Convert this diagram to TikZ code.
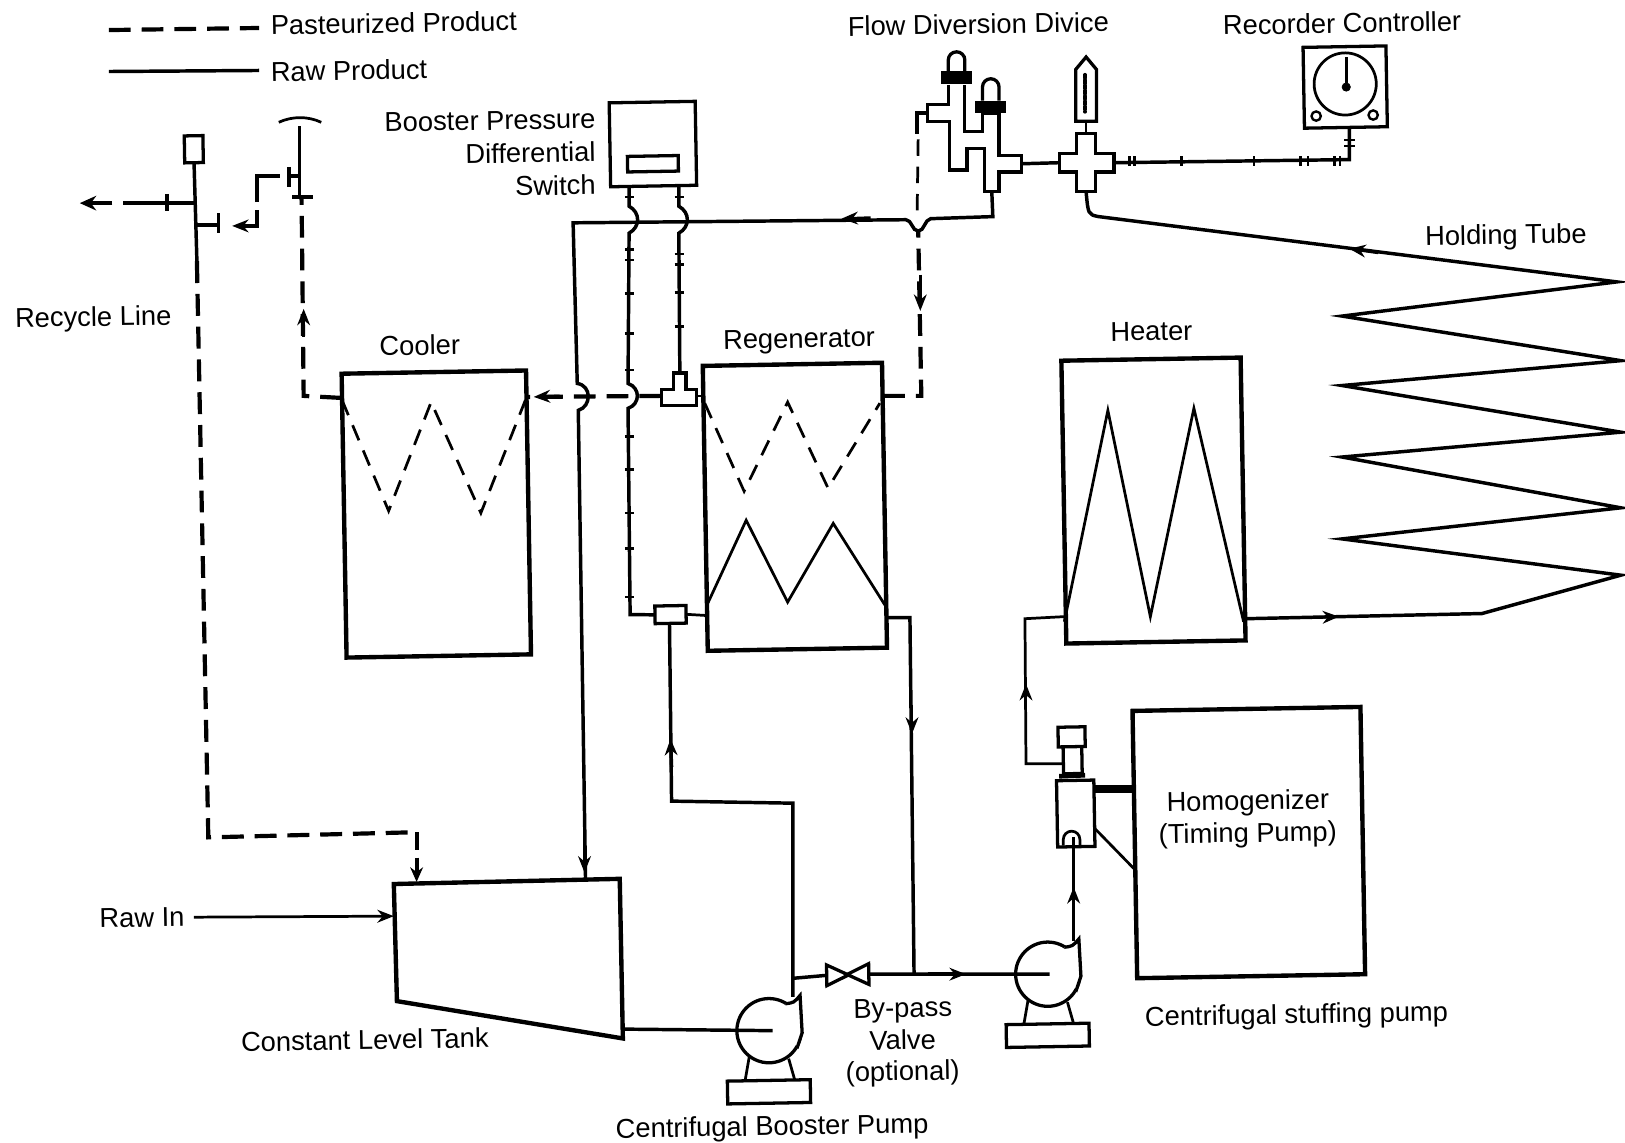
\documentclass[tikz,border=0pt]{standalone}
\usepackage{fontspec}
\setmainfont{Liberation Sans}
\usetikzlibrary{arrows.meta, shapes.geometric}
\tikzset{
  vessel/.style={draw, line width=2.4pt, rotate=1, inner sep=0pt, outer sep=0pt},
  part/.style={draw, fill=white, line width=1.8pt, rotate=1, inner sep=0pt, outer sep=0pt},
  partline/.style={draw, fill=white, line width=1.8pt},
  lbl/.style={rotate=1, inner sep=0pt, text height=11pt, text depth=0pt, font=\fontsize{15}{18}\selectfont},
  pipe/.style={line width=1.5pt},
  heavy/.style={line width=1.9pt},
  broken/.style={line width=1.5pt, dash pattern=on 9pt off 6pt},
  brokenheavy/.style={line width=2.3pt, dash pattern=on 12pt off 6pt},
  flow/.style={-{Stealth[length=9pt,width=7pt]}}
}
\begin{document}
\begin{tikzpicture}[x=0.02cm, y=-0.02cm]
  \useasboundingbox (0,0) rectangle (1568,1102);

  % Legend
  \coordinate (legA) at (105,29);
  \coordinate (legB) at (250,27);
  \coordinate (legC) at (105,69);
  \coordinate (legD) at (250,68);
  \node[lbl, anchor=west] (pasteurized) at (261,24) {Pasteurized Product};
  \node[lbl, anchor=west] (rawproduct) at (261,69) {Raw Product};
  \draw[brokenheavy] (legA) -- (legB);
  \draw[heavy] (legC) -- (legD);

  % Vessels
  \node[vessel, minimum width=3.56cm, minimum height=5.48cm] (cooler) at (421,496) {};
  \node[vessel, minimum width=3.46cm, minimum height=5.50cm] (regen) at (767,489) {};
  \node[vessel, minimum width=3.46cm, minimum height=5.46cm] (heater) at (1113,483) {};
  \node[vessel, minimum width=4.40cm, minimum height=5.16cm] (homog) at (1205,813) {};
  \node[part, minimum width=1.66cm, minimum height=1.62cm] (booster) at (630,139) {};
  \node[part, minimum width=0.98cm, minimum height=0.30cm] (window) at (630,158) {};
  \node[part, minimum width=0.60cm, minimum height=0.34cm] (splitter) at (647,593) {};
  \node[part, minimum width=1.60cm, minimum height=1.56cm] (recorder) at (1298,84) {};
  \node[draw, line width=1.5pt, circle, minimum size=1.20cm, inner sep=0pt] (dial) at (1298,81) {};
  \node[draw, fill=black, circle, minimum size=0.16cm, inner sep=0pt] (needle) at (1299,84) {};
  \node[draw, line width=1.3pt, circle, minimum size=0.18cm, inner sep=0pt] (knobA) at (1270,112) {};
  \node[draw, line width=1.3pt, circle, minimum size=0.18cm, inner sep=0pt] (knobB) at (1325,111) {};
  \coordinate (needleTip) at (1299,55);
  \draw[heavy] (needleTip) -- (needle);

  % Labels
  \node[lbl] (recycle) at (90,305) {Recycle Line};
  \node[lbl] (coolerlbl) at (405,333) {Cooler};
  \node[lbl] (regenlbl) at (771,326) {Regenerator};
  \node[lbl] (heaterlbl) at (1111,319) {Heater};
  \node[lbl] (holdlbl) at (1453,226) {Holding Tube};
  \node[lbl] (flowlbl) at (944,23) {Flow Diversion Divice};
  \node[lbl] (recordlbl) at (1295,22) {Recorder Controller};
  \node[lbl, anchor=east] (boost1) at (575,114) {Booster Pressure};
  \node[lbl, anchor=east] (boost2) at (575,146) {Differential};
  \node[lbl, anchor=east] (boost3) at (575,178) {Switch};
  \node[lbl] (rawin) at (137,885) {Raw In};
  \node[lbl] (tanklbl) at (352,1003) {Constant Level Tank};
  \node[lbl] (bypass1) at (871,972) {By-pass};
  \node[lbl] (bypass2) at (871,1003) {Valve};
  \node[lbl] (bypass3) at (871,1033) {(optional)};
  \node[lbl] (boosterpump) at (745,1086) {Centrifugal Booster Pump};
  \node[lbl] (stuffing) at (1251,978) {Centrifugal stuffing pump};
  \node[lbl] (homog1) at (1204,772) {Homogenizer};
  \node[lbl] (homog2) at (1204,803) {(Timing Pump)};

  % Coils
  \draw[broken] (330,386) -- (375,493) -- (416,388) -- (464,495) -- (507,386);
  \draw[broken] (680,389) -- (718,474) -- (760,388) -- (799,471) -- (849,389);
  \draw[pipe] (683,582) -- (720,502) -- (760,581) -- (804,505) -- (854,584);
  \draw[pipe] (1027,600) -- (1069,396) -- (1110,595) -- (1152,394) -- (1200,600);

  % Constant level tank
  \coordinate (tankA) at (380,853);
  \coordinate (tankB) at (598,848);
  \coordinate (tankC) at (601,1002);
  \coordinate (tankD) at (383,966);
  \draw[line width=2.4pt] (tankA) -- (tankB) -- (tankC) -- (tankD) -- cycle;

  % Pumps
  \foreach \name/\x/\y in {boostpump/742/994.5, stuffpump/1011/940} {
    \node[draw, fill=white, line width=1.8pt, circle, minimum size=1.24cm, inner sep=0pt] (\name) at (\x,\y) {};
    \node[part, minimum width=1.60cm, minimum height=0.44cm] (\name base) at (\x,\y+59) {};
    \draw[pipe] ([shift={(-19,25)}]\x,\y) -- ([shift={(-23,48)}]\x,\y);
    \draw[pipe] ([shift={(19,27)}]\x,\y) -- ([shift={(25,48)}]\x,\y);
    \draw[line width=1.8pt, fill=white] ([shift={(16,-26)}]\x,\y) .. controls ([shift={(24,-27)}]\x,\y) .. ([shift={(30,-34)}]\x,\y) -- ([shift={(32,2)}]\x,\y) -- ([shift={(27,17)}]\x,\y);
  }

  % Main pipes
  \coordinate (tankOut) at (601,993);
  \draw[heavy] (tankOut) -- ([xshift=2pt]boostpump.center);
  \coordinate (rawStart) at (187,885);
  \coordinate (tankIn) at (380,884);
  \draw[pipe, flow] (rawStart) -- (tankIn);
  \coordinate (pumpTop) at (765,962);
  \coordinate (splitOut) at (646,602);
  \draw[heavy] (pumpTop) -- (765,775) -- (648,773) -- (splitOut);
  \draw[heavy, flow] (648,740) -- (647,713);

  % By-pass valve
  \node[part, isosceles triangle, isosceles triangle stretches, minimum width=0.40cm, minimum height=0.42cm] (valveL) at (804,941) {};
  \node[part, isosceles triangle, isosceles triangle stretches, rotate=180, minimum width=0.40cm, minimum height=0.42cm] (valveR) at (832,940) {};
  \draw[heavy] (765,944) -- (valveL.west);
  \draw[heavy] (valveR.west) -- ([xshift=1pt]stuffpump.center);
  \draw[heavy, flow] (895,940) -- (932,940);
  \coordinate (regenOut) at (855,596);
  \draw[heavy] (regenOut) -- (878,596) -- (882,941);
  \draw[pipe, flow] (880,680) -- (880,708);

  % Homogenizer and its head
  \node[part, minimum width=0.72cm, minimum height=1.28cm] (headbody) at (1038,785) {};
  \node[part, minimum width=0.36cm, minimum height=0.54cm] (neck) at (1035,733) {};
  \node[part, minimum width=0.52cm, minimum height=0.38cm] (cap) at (1034,711) {};
  \coordinate (plateA) at (1022,749);
  \coordinate (plateB) at (1047,748);
  \draw[line width=2.6pt] (plateA) -- (plateB);
  \coordinate (outlet) at (1026,737);
  \coordinate (heaterIn) at (1027,595);
  \draw[pipe] (outlet) -- (990,737) -- (989,597) -- (heaterIn);
  \draw[pipe, flow] (990,690) -- (990,660);
  \draw[line width=4.5pt] (1056,761) -- (1092,761);
  \draw[pipe] (1056,799) -- (1094,838);
  \draw[pipe] (1026,816) -- (1026,810) arc[start angle=180, end angle=360, radius=8] -- (1042,816);
  \coordinate (pumpUp) at (1036,908);
  \draw[heavy] (pumpUp) -- (1036,808);
  \draw[heavy, flow] (1036,880) -- (1036,856);

  % Heater to holding tube
  \coordinate (heaterOut) at (1202,597);
  \coordinate (crossDown) at (1048,185);
  \draw[heavy] (heaterOut) -- (1430,592) -- (1564,555) -- (1295,520) -- (1564,490) -- (1295,441) -- (1564,417) -- (1295,372) -- (1564,348) -- (1295,305) -- (1560,272) -- (1060,209) .. controls (1050,207) .. (crossDown);
  \draw[pipe, flow] (1265,596) -- (1292,595);
  \draw[pipe, flow] (1330,244) -- (1302,240);

  % Flow diversion device
  \draw[partline] (915,82) -- (915,101) -- (895,101) -- (895,117) -- (916,117) -- (916,164) -- (933,164) -- (933,143) -- (950,143) -- (950,185) -- (964,185) -- (964,166) -- (986,166) -- (986,150) -- (964,150) -- (964,109) -- (948,109) -- (948,127) -- (931,127) -- (931,82);
  \draw[partline] (915,69) -- (915,58) arc[start angle=180, end angle=360, radius=8] -- (931,69);
  \draw[partline] (948,97) -- (948,84) arc[start angle=180, end angle=360, radius=8] -- (964,97);
  \node[fill=black, minimum width=0.60cm, minimum height=0.26cm, inner sep=0pt] (blockA) at (923,75) {};
  \node[fill=black, minimum width=0.60cm, minimum height=0.24cm, inner sep=0pt] (blockB) at (956,103) {};

  % Cross and thermometer
  \draw[partline] (1039,129) -- (1057,129) -- (1057,148) -- (1075,148) -- (1075,166) -- (1057,166) -- (1057,185) -- (1039,185) -- (1039,166) -- (1022,166) -- (1022,148) -- (1039,148) -- cycle;
  \draw[partline] (1038,117) -- (1038,67) -- (1048,55) -- (1058,67) -- (1058,117) -- cycle;
  \coordinate (thermBase) at (1048,117);
  \coordinate (crossTop) at (1048,129);
  \coordinate (crossLeft) at (1022,157);
  \coordinate (crossRight) at (1075,157);
  \coordinate (devRight) at (986,158);
  \coordinate (devBottom) at (957,185);
  \coordinate (recBottom) at (1302,122);
  \draw[pipe] (thermBase) -- (crossTop);
  \draw[heavy] (devRight) -- (crossLeft);
  \draw[heavy, line cap=round, densely dotted] (1047,72) -- (1047,108);
  \draw[heavy] (crossRight) -- (1302,154) -- (recBottom);
  \foreach \x in {1090,1095,1140,1210,1255,1262,1288,1293} \draw[pipe] (\x,151) -- (\x,160);
  \draw[pipe] (1297,135) -- (1307,135);
  \draw[pipe] (1297,141) -- (1307,141);

  % Return line to the tank
  \coordinate (tankTop) at (565,849);
  \draw[heavy] (devBottom) -- (958,209) -- (898,211) .. controls (892,212) and (892,223) .. (886,223) .. controls (880,223) and (880,212) .. (874,212) -- (553,215) -- (557,370) .. controls (571,372) and (571,392) .. (558,396) -- (tankTop);
  \draw[pipe, flow] (840,210) -- (812,211);
  \draw[pipe, flow] (564,810) -- (564,842);

  % Lines from the pressure switch
  \coordinate (swA) at (607,181);
  \coordinate (swB) at (655,180);
  \coordinate (teeTop) at (656,360);
  \draw[heavy] (swA) -- (607,199) .. controls (618,205) and (618,219) .. (607,225) -- (606,370) .. controls (618,374) and (618,390) .. (606,394) -- (608,593) -- (splitter.west);
  \draw[heavy] (swB) -- (655,199) .. controls (666,205) and (666,219) .. (655,225) -- (teeTop);
  \foreach \y in {190,241,251,283,322,357,421,453,495,529,576} \draw[pipe] (603,\y) -- (612,\y);
  \foreach \y in {190,245,255,282,315} \draw[pipe] (651,\y) -- (660,\y);
  \draw[partline] (650,360) -- (662,360) -- (662,376) -- (672,376) -- (672,391) -- (638,391) -- (638,376) -- (650,376) -- cycle;
  \coordinate (splitRight) at (683,594);
  \draw[pipe] (splitter.east) -- (splitRight);
  \coordinate (teeRight) at (672,382);
  \coordinate (regenLeft) at (680,382);
  \draw[pipe] (teeRight) -- (regenLeft);

  % Pasteurized product
  \coordinate (teeLeft) at (638,382);
  \coordinate (coolerRight) at (509,383);
  \draw[brokenheavy] (teeLeft) -- (coolerRight);
  \draw[pipe, flow] (540,382) -- (515,383);
  \coordinate (coolerLeft) at (330,384);
  \coordinate (recycleUp) at (291,192);
  \draw[brokenheavy] (coolerLeft) -- (293,382) -- (recycleUp);
  \draw[pipe, flow] (293,325) -- (293,298);
  \coordinate (regenRight) at (852,382);
  \coordinate (devDrop) at (886,129);
  \draw[brokenheavy] (regenRight) -- (889,382) -- (886,222);
  \draw[broken] (885,203) -- (devDrop);
  \draw[heavy] (885,129) -- (885,109) -- (895,109);
  \draw[pipe, flow] (888,265) -- (888,300);
  \coordinate (recycleTop) at (190,252);
  \coordinate (tankDrop) at (402,851);
  \draw[brokenheavy] (recycleTop) -- (201,808) -- (402,803);
  \draw[brokenheavy, dash pattern=on 10pt off 4pt, -{Stealth[length=8pt,width=7pt]}] (402,803) -- (tankDrop);

  % Recycle valves
  \node[part, minimum width=0.36cm, minimum height=0.52cm] (sensor) at (187,144) {};
  \coordinate (outEnd) at (77,196);
  \coordinate (teeEnd) at (211,217);
  \draw[heavy] (sensor.south) -- (recycleTop);
  \draw[heavy] (187,196) -- (140,196);
  \draw[brokenheavy, -{Stealth[length=9pt,width=8pt]}] (140,196) -- (outEnd);
  \draw[heavy] (161,187) -- (161,204);
  \draw[heavy] (187,217) -- (teeEnd);
  \draw[heavy] (211,206) -- (211,225);
  \coordinate (sideEnd) at (224,218);
  \draw[heavy, flow] (248,203) -- (248,218) -- (sideEnd);
  \draw[heavy] (248,195) -- (248,170) -- (270,170);
  \draw[heavy] (279,161) -- (279,180);
  \draw[heavy] (279,170) -- (289,170);
  \draw[heavy] (289,122) -- (289,190);
  \draw[heavy] (282,190) -- (302,190);
  \draw[pipe] (269,118) .. controls (282,112) and (297,112) .. (310,118);
\end{tikzpicture}
\end{document}
